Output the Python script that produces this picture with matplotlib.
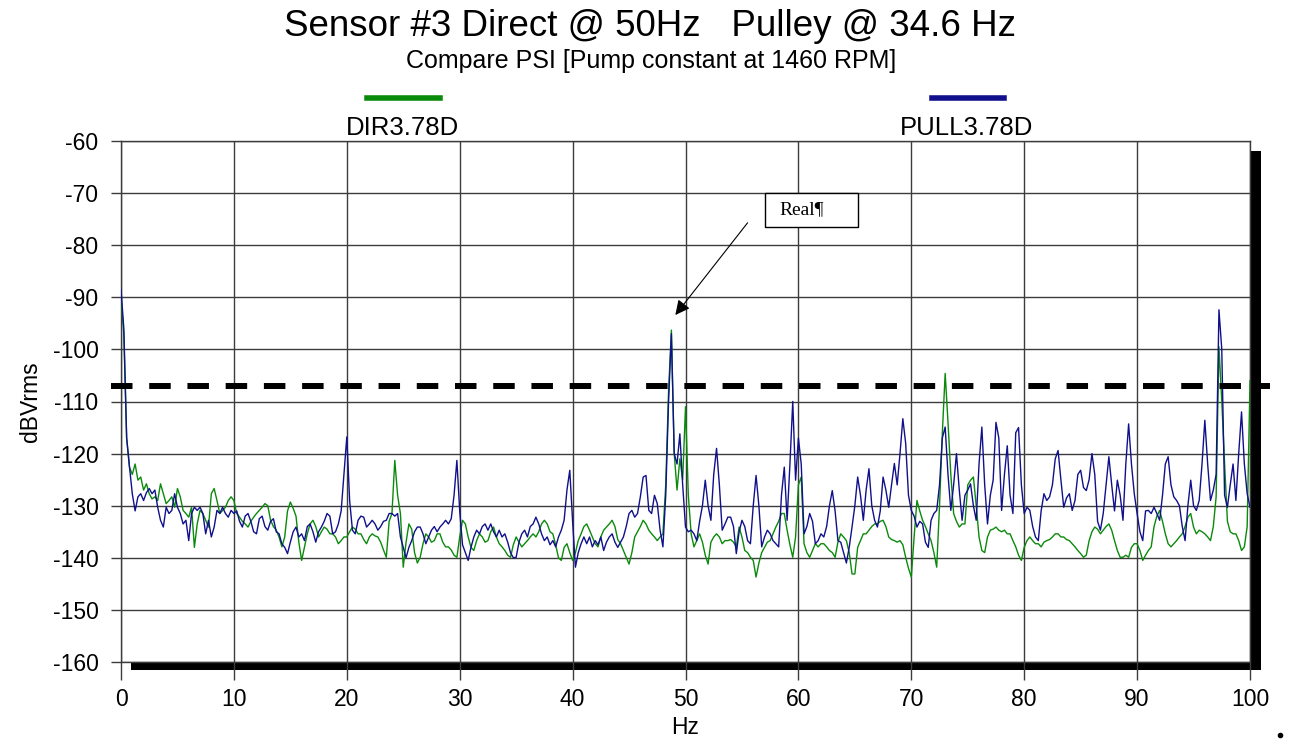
import numpy as np
import matplotlib
matplotlib.use("Agg")
import matplotlib.pyplot as plt
from matplotlib.patches import Rectangle
from matplotlib.lines import Line2D

plt.rcParams['font.family'] = ['Liberation Sans', 'DejaVu Sans']
plt.rcParams['axes.unicode_minus'] = False

# ---------------- data ----------------
freq_hz = np.arange(0, 100.001, 0.25)

# DIR3.78D (green), dBVrms, every 0.25 Hz
dir_db = [
    -90, -97, -117, -122.6, -124, -122, -125.1, -124.5, -127, -125.8, -127.7, -128.7, -128.3, -129, -125.8, -127.7, -129.6, -129, -128.3, -130.3,
    -126.7, -128.3, -130.9, -131.5, -132.2, -130.3, -138, -133.5, -130.9, -131.5, -132.8, -134.1, -127.7, -126.7, -129, -131.5, -130.9, -130.3, -129, -128.3,
    -129, -131.5, -132.2, -133, -133.5, -134.1, -133, -132.2, -131.5, -130.9, -130.3, -129.6, -130, -132.8, -134, -134.7, -136, -137.9, -136, -131,
    -129.3, -130.5, -132, -137, -140.5, -138, -135.4, -133.5, -132.8, -134, -136, -135, -134.1, -134.5, -135.4, -135.4, -136, -137.3, -136.7, -136,
    -136, -135, -134.1, -134.5, -135.4, -135.4, -136.5, -137.3, -136, -135.4, -135.8, -136, -137, -138.5, -139.9, -133, -131.5, -121.3, -128, -131.5,
    -141.8, -137, -133.5, -134.5, -139, -141, -139.9, -137.3, -135.4, -136, -137, -136.7, -135.4, -135.4, -137, -137.9, -137.9, -138.5, -139.5, -139.9,
    -136, -132.8, -133.5, -136, -138, -138.6, -136.7, -135.4, -136, -137, -136.7, -135, -134.1, -136, -137.3, -137.9, -138.6, -139.5, -139.9, -137.5,
    -136, -137, -137.9, -137.3, -136.7, -136, -135.4, -136, -135, -133.5, -132.8, -133.5, -135, -135.4, -137.5, -140, -140.5, -138, -137.3, -139,
    -140.5, -139, -136.7, -135.4, -134, -133.5, -134.7, -136, -137.3, -137.9, -136, -134.7, -134.1, -133.5, -132.8, -134, -136.5, -137.3, -138.6, -139.9,
    -141.2, -139, -136, -135, -134, -132.8, -133.5, -134.7, -135.4, -136, -136.7, -136, -135.4, -126, -108, -96.3, -120, -127, -121, -125,
    -111, -128, -135.4, -137.9, -136.7, -135.4, -137, -139.5, -141.2, -137, -136, -135.4, -136, -137.3, -136.7, -136.7, -136.5, -137, -137.9, -134.1,
    -136, -138.6, -139, -139.9, -140.5, -143.7, -141, -139, -138, -137, -136.7, -135.4, -134.1, -133, -131.5, -131.5, -134.7, -137.5, -139.9, -136,
    -126, -124.5, -137.3, -139, -139.9, -138.6, -137.3, -137.9, -137.3, -137.3, -137.9, -138.6, -139, -139.9, -137, -135.4, -136, -136.7, -139, -143.1,
    -143.1, -138, -136.7, -135.4, -135.4, -134.7, -134, -133.5, -133.5, -133, -132.8, -134, -136, -136.5, -136.7, -137, -136.7, -137.5, -139.9, -142,
    -143.7, -136, -129, -131, -132.8, -134, -135.4, -136.7, -139, -141.8, -130, -116, -104.6, -114, -124, -131.5, -133, -134.1, -133.5, -133.5,
    -126, -125.1, -124.5, -130, -136, -138.6, -139, -136, -134.7, -134.5, -134.1, -134.7, -135, -134.7, -135.4, -135.4, -136.7, -137.9, -139.5, -140.5,
    -138, -136.7, -136, -136.7, -137.3, -137.3, -137.9, -137, -136.7, -136.5, -136, -135.4, -135.4, -136, -136, -136.5, -136.7, -137.3, -137.9, -138.6,
    -139.2, -139.9, -139.5, -136.7, -135, -134.1, -134.5, -135.4, -134.7, -134, -133.5, -134.7, -136.7, -138.6, -139.9, -139.9, -139.5, -139.9, -138, -137.3,
    -137.3, -138.6, -140.5, -139.5, -138.6, -137.9, -134, -132, -130.9, -133, -135.4, -137.3, -137.9, -137.3, -136.7, -136, -135.4, -134, -132.2, -131.5,
    -134.1, -135.4, -134.7, -135, -135.4, -136, -136.7, -134, -128.3, -99.5, -110, -122, -133, -135, -135.4, -135.4, -136.7, -138.6, -137.9, -134,
    -106,
]

# PULL3.78D (blue), dBVrms, every 0.25 Hz
pull_db = [
    -88.5, -96, -117, -122.5, -127.7, -131, -128.3, -127.7, -129, -127.5, -126.7, -127.7, -127, -130.3, -132.8, -134.1, -130.3, -131.5, -130.9, -127.7,
    -130.3, -131.5, -133.5, -132.8, -136.7, -131.5, -130.3, -130.9, -130.3, -131.5, -135.4, -132.8, -136, -134.1, -130.9, -131.5, -130.3, -131.5, -132.2, -130.9,
    -131.5, -131, -133, -134.1, -132, -131.5, -133, -135, -135.4, -132.5, -132, -134, -134.7, -133, -132.5, -135, -135.4, -137.3, -138, -139.2,
    -137, -135, -134.1, -136, -135.4, -136.7, -134, -133.5, -135, -137, -135, -134.1, -133, -131.5, -132, -135.4, -135, -133.5, -131, -124,
    -116.8, -129, -134.7, -135.4, -132.8, -132, -132.2, -134.1, -133.5, -132.8, -133.5, -134.7, -134, -133, -132.8, -131.5, -131.5, -132, -131.5, -136,
    -138, -140, -138, -136.7, -135, -134.1, -134.1, -135.4, -137.3, -136, -134.7, -134, -135, -134.1, -133.5, -132.8, -133.5, -132.5, -128, -121.3,
    -131, -137.5, -139, -140.5, -138, -136, -134.7, -135.4, -134, -133.5, -134.7, -133.5, -135, -136, -134.7, -136, -135.4, -137, -139, -140,
    -139.9, -137, -135.4, -134.7, -136, -134, -133.5, -132.2, -133.5, -135.4, -136.7, -136, -137.5, -136.7, -137.9, -136, -134.7, -132.8, -127, -123.2,
    -133, -141.8, -139, -137.3, -136, -137.3, -136, -137.9, -136.7, -137.5, -136, -138.6, -137, -136, -135.4, -137, -138, -137, -136, -134,
    -131.5, -130.9, -132.2, -131.5, -128.3, -124.5, -124.2, -130.9, -131.5, -128, -129.6, -134.7, -137.9, -128, -110, -97, -120, -122, -116.2, -126,
    -134.1, -135, -134.7, -135.4, -136.7, -133, -130, -125.1, -130, -132.8, -124, -119, -126, -134.7, -133.5, -132.2, -132.2, -134, -139.2, -135,
    -132.8, -134, -136.7, -137.3, -130, -124.2, -130, -137.9, -136, -134.7, -135.4, -136.7, -137.3, -137.9, -128, -122.6, -132.8, -122, -110, -125.1,
    -117, -122, -135.4, -134, -131.5, -133, -137.3, -136.7, -135.4, -136, -134, -130, -127.1, -131, -136.7, -137, -139, -141, -138, -134.1,
    -130, -124.5, -128, -132.8, -127, -122.9, -130, -132.8, -134.1, -131, -124.5, -127, -130.3, -126, -121.9, -126, -120, -113.3, -118, -128,
    -130.9, -132, -134.1, -133, -133.5, -137, -138, -132.8, -131.5, -130.9, -126, -117, -114.9, -124, -130.9, -126, -120, -127, -132.8, -128,
    -127, -125.8, -130, -132.8, -122, -114.9, -126, -133.5, -128, -125.1, -114, -117, -130.9, -124, -118.5, -128, -131.5, -116, -115, -126,
    -131.5, -130.3, -130.9, -134, -136, -136.7, -131, -127.7, -129, -128.3, -126, -121, -119.4, -125, -130.3, -128.5, -127.7, -130.9, -129, -124,
    -123.2, -126.5, -127.1, -125, -120, -124, -133, -134.7, -131.5, -126, -120.6, -126, -131, -125.1, -128, -132.8, -122, -114.3, -122, -127.7,
    -131.5, -135, -136.7, -131, -130.9, -131.5, -130.3, -131.5, -132.8, -128, -122, -120.6, -126, -128.3, -129, -130, -134, -136.7, -130, -125.1,
    -130, -130.9, -129, -122, -113.6, -122, -129, -127, -124, -92.4, -100, -128, -130.3, -126, -122, -129, -120, -112, -122, -127.7,
    -130.3,
]

series_labels = ["DIR3.78D", "PULL3.78D"]
series_colors = ["#0a8a0a", "#10108c"]
x_ticks = np.arange(0, 101, 10)
y_ticks = np.arange(-160, -59, 10)
threshold_db = -107.0
title = "Sensor #3 Direct @ 50Hz   Pulley @ 34.6 Hz"
subtitle = "Compare PSI [Pump constant at 1460 RPM]"
note_text = "Real\u00b6"
note_target = (49.1, -93.4)
note_tail = (55.5, -75.7)

# ---------------- figure ----------------
W, H = 1289, 740
fig = plt.figure(figsize=(W / 100, H / 100), dpi=100)
fig.patch.set_facecolor("white")

def fx(px):
    return px / W

def fy(py):
    return 1 - py / H

ax_l, ax_r, ax_t, ax_b = 121, 1250, 141, 662
ax = fig.add_axes([fx(ax_l), fy(ax_b), fx(ax_r) - fx(ax_l), fy(ax_t) - fy(ax_b)])
ax.set_facecolor("white")

# drop shadow behind the plot area
shadow = Rectangle((fx(131), fy(670)), fx(1261) - fx(131), fy(151) - fy(670),
                   transform=fig.transFigure, facecolor="black", edgecolor="none", zorder=-5)
fig.patches.append(shadow)

ax.plot(freq_hz, dir_db, color=series_colors[0], lw=1.0, zorder=3)
ax.plot(freq_hz, pull_db, color=series_colors[1], lw=1.0, zorder=4)

ax.set_xlim(0, 100)
ax.set_ylim(-160, -60)
ax.set_xticks(x_ticks)
ax.set_yticks(y_ticks)
ax.grid(True, color="#3c3c3c", lw=1.0, zorder=1)
ax.set_axisbelow(True)
for s in ["left", "top", "right", "bottom"]:
    ax.spines[s].set_color("#3c3c3c")
    ax.spines[s].set_linewidth(1.0)
ax.tick_params(axis="y", length=7.2, width=1.0, color="#3c3c3c", pad=9, labelsize=16.5)
ax.tick_params(axis="x", length=13, width=1.0, color="#3c3c3c", pad=6, labelsize=16.5)

ax.set_ylabel("dBVrms", fontsize=16.5, labelpad=8)
ax.set_xlabel("Hz", fontsize=16.5, labelpad=3)

# threshold dashed line (extends beyond the axes)
x0 = (111 - ax_l) / (ax_r - ax_l) * 100
x1 = (1270 - ax_l) / (ax_r - ax_l) * 100
ax.plot([x0, x1], [threshold_db, threshold_db], color="black", lw=4.3,
        dashes=(3.6, 2.8), clip_on=False, zorder=6, solid_capstyle="butt", dash_capstyle="butt")

# annotation
ax.annotate("", xy=note_target, xytext=note_tail,
            arrowprops=dict(arrowstyle="-|>", color="black", lw=0.8, mutation_scale=22,
                            shrinkA=0, shrinkB=0), zorder=7)
bx0 = (765 - ax_l) / 11.29
bx1 = (858 - ax_l) / 11.29
by0 = -60 - (227 - ax_t) / 5.21
by1 = -60 - (193 - ax_t) / 5.21
ax.add_patch(Rectangle((bx0, by0), bx1 - bx0, by1 - by0, facecolor="white",
                       edgecolor="black", lw=1.0, zorder=8))
ax.text(bx0 + (779 - 765) / 11.29, (by0 + by1) / 2, note_text, family="Liberation Serif",
        fontsize=14, ha="left", va="center", zorder=9)

# titles
fig.text(fx(650), fy(26), title, ha="center", va="center", fontsize=26.5)
fig.text(fx(651), fy(61), subtitle, ha="center", va="center", fontsize=18)

# legend
fig.add_artist(Line2D([fx(367), fx(440)], [fy(98), fy(98)], color=series_colors[0], lw=4))
fig.add_artist(Line2D([fx(932), fx(1004)], [fy(98), fy(98)], color=series_colors[1], lw=4))
fig.text(fx(403), fy(128), series_labels[0], ha="center", va="center", fontsize=18.5)
fig.text(fx(967), fy(128), series_labels[1], ha="center", va="center", fontsize=18.5)

# small mark at lower right
fig.add_artist(Line2D([fx(1280)], [fy(735)], marker="o", markersize=3, color="black"))

fig.savefig("out.png", dpi=100)
